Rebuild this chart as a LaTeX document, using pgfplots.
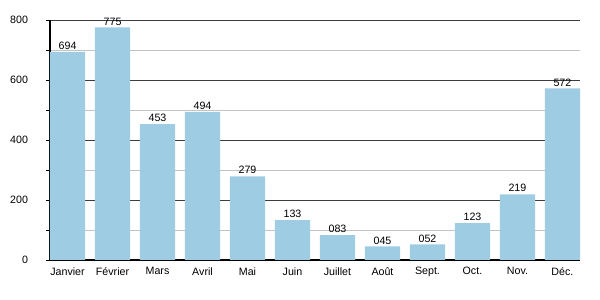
\documentclass[border=0pt]{standalone}
\usepackage{pgfplots}
\pgfplotsset{compat=1.18}
\usepackage{fontspec}
\setmainfont{Liberation Sans}
\definecolor{barblue}{RGB}{158,204,227}
\definecolor{majgrid}{RGB}{60,60,60}
\definecolor{mingrid}{RGB}{195,195,195}
\pgfplotstableread{
x y lab
0 694 694
1 775 775
2 453 453
3 494 494
4 279 279
5 133 133
6 83 083
7 45 045
8 52 052
9 123 123
10 219 219
11 572 572
}\data
\begin{document}
\begin{tikzpicture}
\begin{axis}[
  scale only axis,
  width=397.5pt, height=180pt,
  xmin=-0.39, xmax=11.39,
  ymin=0, ymax=800,
  ytick={0,200,400,600,800},
  minor ytick={100,300,500,700},
  xtick={0,...,11},
  xticklabels={Janvier,Février,Mars,Avril,Mai,Juin,Juillet,Août,Sept.,Oct.,Nov.,Déc.},
  axis x line*=bottom,
  axis y line*=left,
  axis line style={black, line width=0.8pt, -},
  ymajorgrids, yminorgrids,
  major grid style={majgrid, line width=0.6pt},
  minor grid style={mingrid, line width=0.6pt},
  tick align=outside,
  ytick style={black, line width=0.6pt},
  major tick length=3pt, minor tick length=3pt,
  xtick style={draw=none},
  tick label style={font=\fontsize{8}{9.5}\selectfont},
  /pgf/number format/assume math mode=true,
  yticklabel style={xshift=-10pt},
  xticklabel style={yshift=1pt},
  clip=false,
]
\addplot[ybar, bar width=0.78, fill=barblue, draw=none,
  nodes near coords, point meta=explicit symbolic,
  every node near coord/.append style={font=\fontsize{8}{9.5}\selectfont, black, inner sep=1.5pt}]
  table[x=x, y=y, meta=lab]{\data};
\end{axis}
\pgfresetboundingbox
\useasboundingbox ([xshift=-37.5pt,yshift=-30pt]current axis.south west) rectangle ([xshift=15pt,yshift=15pt]current axis.north east);
\end{tikzpicture}
\end{document}
